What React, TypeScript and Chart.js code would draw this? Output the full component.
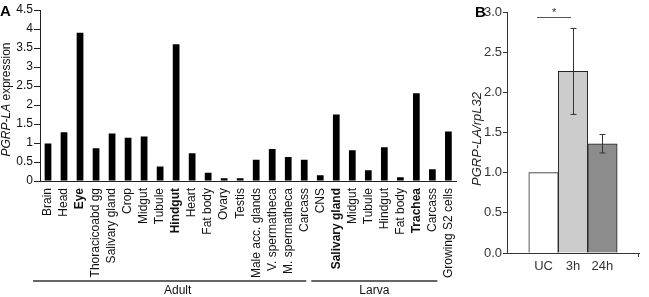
import React, { useEffect, useRef } from 'react';
import { Chart, registerables } from 'chart.js';

Chart.register(...registerables);

// ---------- Panel A data ----------
const tissuesA = [
  'Brain', 'Head', 'Eye', 'Thoracicoabd gg', 'Salivary gland', 'Crop', 'Midgut', 'Tubule',
  'Hindgut', 'Heart', 'Fat body', 'Ovary', 'Testis', 'Male acc. glands', 'V. spermatheca',
  'M. spermatheca', 'Carcass', 'CNS', 'Salivary gland', 'Midgut', 'Tubule', 'Hindgut',
  'Fat body', 'Trachea', 'Carcass', 'Growing S2 cells',
];
const expressionA = [
  0.99, 1.28, 3.9, 0.86, 1.25, 1.14, 1.17, 0.38, 3.6, 0.73, 0.22, 0.07, 0.07, 0.56, 0.84,
  0.63, 0.56, 0.15, 1.75, 0.81, 0.28, 0.89, 0.1, 2.31, 0.31, 1.3,
];
const boldIndexA = [2, 8, 18, 23];
const groupLabelsA = ['Adult', 'Larva'];
const groupFromA = [0, 17];
const groupToA = [16, 24];
const yMaxA = 4.5;
const yStepA = 0.5;

// ---------- Panel B data ----------
const conditionsB = ['UC', '3h', '24h'];
const ratioB = [1.0, 2.26, 1.36];
const errorB = [0, 0.535, 0.115];
const colorsB = ['#ffffff', '#cccccc', '#8c8c8c'];
const yMaxB = 3.0;
const yStepB = 0.5;
const sigPairB = [0, 1];
const sigLabelB = '*';

const FONT = '"Liberation Sans", Arial, sans-serif';

function drawMixedVertical(ctx: CanvasRenderingContext2D, x: number, y: number, parts: { text: string; font: string }[], color: string) {
  ctx.save();
  ctx.translate(x, y);
  ctx.rotate(-Math.PI / 2);
  ctx.fillStyle = color;
  ctx.textBaseline = 'middle';
  ctx.textAlign = 'left';
  let total = 0;
  const widths = parts.map((p) => {
    ctx.font = p.font;
    const w = ctx.measureText(p.text).width;
    total += w;
    return w;
  });
  let cx = -total / 2;
  parts.forEach((p, i) => {
    ctx.font = p.font;
    ctx.fillText(p.text, cx, 0);
    cx += widths[i];
  });
  ctx.restore();
}

function PanelA() {
  const ref = useRef<HTMLCanvasElement>(null);
  useEffect(() => {
    const canvas = ref.current!;
    const decor = {
      id: 'decorA',
      afterDraw(chart: any) {
        const ctx = chart.ctx as CanvasRenderingContext2D;
        const xs = chart.scales.x;
        const area = chart.chartArea;
        ctx.save();
        ctx.fillStyle = '#000';
        ctx.font = `bold 15px ${FONT}`;
        ctx.textBaseline = 'alphabetic';
        ctx.textAlign = 'left';
        ctx.fillText('A', 0, 16);
        ctx.restore();
        drawMixedVertical(ctx, 7, (area.top + area.bottom) / 2 + 4, [
          { text: 'PGRP-LA', font: `italic 12px ${FONT}` },
          { text: ' expression', font: `12px ${FONT}` },
        ], '#111');
        ctx.save();
        ctx.strokeStyle = '#333';
        ctx.lineWidth = 1.5;
        ctx.fillStyle = '#111';
        ctx.font = `12px ${FONT}`;
        ctx.textAlign = 'center';
        ctx.textBaseline = 'middle';
        const lineY = 281;
        groupLabelsA.forEach((lab, i) => {
          const x0 = xs.getPixelForValue(groupFromA[i]) - (i === 0 ? 15 : 9);
          const x1 = xs.getPixelForValue(groupToA[i]) + (i === 0 ? 2 : 5);
          ctx.beginPath();
          ctx.moveTo(x0, lineY);
          ctx.lineTo(x1, lineY);
          ctx.stroke();
          ctx.fillText(lab, (x0 + x1) / 2 + (i === 0 ? 8 : 0), lineY + 10);
        });
        ctx.restore();
      },
    };
    const chart = new Chart(canvas, {
      type: 'bar',
      data: {
        labels: tissuesA,
        datasets: [{
          data: expressionA,
          backgroundColor: '#000',
          borderWidth: 0,
          barPercentage: 0.42,
          categoryPercentage: 1,
        }],
      },
      options: {
        responsive: false,
        animation: false,
        layout: { padding: { top: 10, right: 11, left: 0, bottom: 0 } },
        plugins: { legend: { display: false }, tooltip: { enabled: false }, title: { display: false } },
        scales: {
          x: {
            grid: { display: false, drawTicks: false },
            border: { display: true, color: '#222', width: 1 },
            ticks: {
              autoSkip: false,
              maxRotation: 90,
              minRotation: 90,
              padding: 7,
              color: '#111',
              font: (c: any) => ({
                family: FONT,
                size: 12,
                weight: boldIndexA.includes(c.index) ? 'bold' : 'normal',
              }),
            },
            afterFit: (s: any) => { s.height = 116; },
          },
          y: {
            min: 0,
            max: yMaxA,
            grid: { display: true, drawOnChartArea: false, drawTicks: true, tickLength: 6, color: '#222' },
            border: { display: true, color: '#222', width: 1 },
            ticks: {
              stepSize: yStepA,
              padding: 1,
              color: '#111',
              font: { family: FONT, size: 12 },
              callback: (v: any) => String(v),
            },
            afterFit: (s: any) => { s.width = 40; },
          },
        },
      },
      plugins: [decor],
    } as any);
    return () => chart.destroy();
  }, []);
  return <canvas ref={ref} width={470} height={297} style={{ width: 470, height: 297, display: 'block' }} />;
}

function PanelB() {
  const ref = useRef<HTMLCanvasElement>(null);
  useEffect(() => {
    const canvas = ref.current!;
    const decor = {
      id: 'decorB',
      afterDatasetsDraw(chart: any) {
        const ctx = chart.ctx as CanvasRenderingContext2D;
        const ys = chart.scales.y;
        const meta = chart.getDatasetMeta(0);
        ctx.save();
        ctx.strokeStyle = '#333';
        ctx.lineWidth = 1;
        meta.data.forEach((bar: any, i: number) => {
          const e = errorB[i];
          if (!e) return;
          const x = Math.round(bar.x) + 0.5;
          const yt = ys.getPixelForValue(ratioB[i] + e);
          const yb = ys.getPixelForValue(ratioB[i] - e);
          ctx.beginPath();
          ctx.moveTo(x, yt);
          ctx.lineTo(x, yb);
          ctx.moveTo(x - 3, yt);
          ctx.lineTo(x + 3, yt);
          ctx.moveTo(x - 3, yb);
          ctx.lineTo(x + 3, yb);
          ctx.stroke();
        });
        ctx.restore();
      },
      afterDraw(chart: any) {
        const ctx = chart.ctx as CanvasRenderingContext2D;
        const area = chart.chartArea;
        const meta = chart.getDatasetMeta(0);
        ctx.save();
        ctx.fillStyle = '#000';
        ctx.font = `bold 15px ${FONT}`;
        ctx.textAlign = 'left';
        ctx.textBaseline = 'alphabetic';
        ctx.fillText('B', 5, 17);
        ctx.restore();
        drawMixedVertical(ctx, 7, 139, [{ text: 'PGRP-LA/rpL32', font: `italic 13px ${FONT}` }], '#222');
        ctx.save();
        ctx.strokeStyle = '#333';
        ctx.lineWidth = 1;
        ctx.beginPath();
        ctx.moveTo(area.right - 0.5, area.bottom);
        ctx.lineTo(area.right - 0.5, area.bottom + 4);
        ctx.stroke();
        const a = meta.data[sigPairB[0]];
        const b = meta.data[sigPairB[1]];
        const sx0 = a.x - 6.5;
        const sx1 = b.x - 2;
        const sy = 17.5;
        ctx.strokeStyle = '#555';
        ctx.beginPath();
        ctx.moveTo(sx0, sy);
        ctx.lineTo(sx1, sy);
        ctx.stroke();
        ctx.fillStyle = '#333';
        ctx.font = `11px ${FONT}`;
        ctx.textAlign = 'center';
        ctx.textBaseline = 'middle';
        ctx.fillText(sigLabelB, (sx0 + sx1) / 2, sy - 5);
        ctx.restore();
      },
    };
    const chart = new Chart(canvas, {
      type: 'bar',
      data: {
        datasets: [{
          data: ratioB.map((v, i) => ({ x: i, y: v })),
          backgroundColor: colorsB,
          borderColor: '#222',
          borderWidth: 1,
          barPercentage: 1,
          categoryPercentage: 1,
        }],
      },
      options: {
        responsive: false,
        animation: false,
        layout: { padding: { top: 12, right: 10, left: 0, bottom: 0 } },
        plugins: { legend: { display: false }, tooltip: { enabled: false }, title: { display: false } },
        scales: {
          x: {
            type: 'linear',
            offset: false,
            min: -1.24,
            max: 3.24,
            grid: { display: false, drawTicks: false, offset: false },
            border: { display: true, color: '#333', width: 1 },
            afterBuildTicks: (s: any) => { s.ticks = conditionsB.map((_, i) => ({ value: i })); },
            ticks: {
              padding: 6,
              color: '#333',
              font: { family: FONT, size: 13 },
              callback: (v: any) => conditionsB[v] ?? '',
              autoSkip: false,
              maxRotation: 0,
            },
            afterFit: (s: any) => { s.height = 44; },
          },
          y: {
            min: 0,
            max: yMaxB,
            grid: { display: true, drawOnChartArea: false, drawTicks: true, tickLength: 4, color: '#333' },
            border: { display: true, color: '#333', width: 1 },
            ticks: {
              stepSize: yStepB,
              padding: 1,
              color: '#333',
              font: { family: FONT, size: 13 },
              callback: (v: any) => Number(v).toFixed(1),
            },
            afterFit: (s: any) => { s.width = 37; },
          },
        },
      },
      plugins: [decor],
    } as any);
    return () => chart.destroy();
  }, []);
  return <canvas ref={ref} width={179} height={297} style={{ width: 179, height: 297, display: 'block' }} />;
}

export default function App() {
  return (
    <div style={{ position: 'absolute', left: 0, top: 0, width: 649, height: 297, background: '#fff', display: 'flex' }}>
      <PanelA />
      <PanelB />
    </div>
  );
}
